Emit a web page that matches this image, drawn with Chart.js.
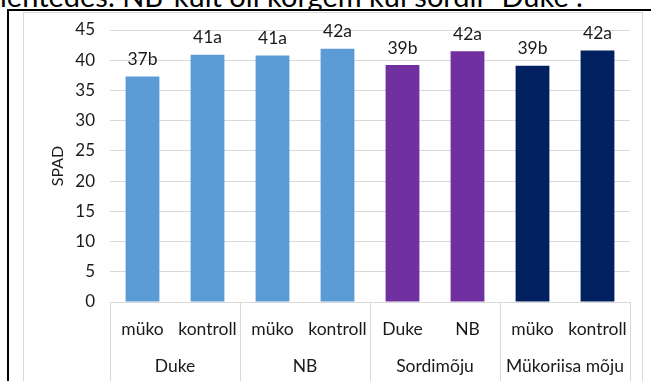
<!DOCTYPE html>
<html>
<head>
<meta charset="utf-8">
<script src="https://cdn.jsdelivr.net/npm/chart.js@4.4.0/dist/chart.umd.min.js"></script>
<style>
  body { margin: 0; background: #fff; width: 651px; height: 381px; overflow: hidden; position: relative; font-family: Lato, sans-serif; }
  .lead { position: absolute; left: 0; top: -19px; font-size: 29px; line-height: 29px; color: #000; white-space: nowrap; }
  .frame { position: absolute; left: 7px; top: 9px; width: 660px; height: 400px; border-top: 2px solid #000; border-left: 2px solid #000; background: #fff; }
  .box { position: absolute; left: 23px; top: 12px; width: 618px; height: 400px; border: 1px solid #d9d9d9; }
  canvas { position: absolute; left: 0; top: 0; }
</style>
</head>
<body>
<div class="lead">lehtedes. NB-kült oli kõrgem kui sordil "Duke".</div>
<div class="frame"></div>
<div class="box"><canvas id="chart" width="618" height="368"></canvas></div>
<script>
// SPAD väärtused sordi ja mükoriisa järgi
const subLabels = ['müko', 'kontroll', 'müko', 'kontroll', 'Duke', 'NB', 'müko', 'kontroll'];
const groupLabels = ['Duke', 'NB', 'Sordimõju', 'Mükoriisa mõju'];
const spad = [37.3, 40.9, 40.8, 41.9, 39.2, 41.5, 39.1, 41.6];
const letters = ['b', 'a', 'a', 'a', 'b', 'a', 'b', 'a'];
const barColors = ['#5b9bd5', '#5b9bd5', '#5b9bd5', '#5b9bd5', '#7030a0', '#7030a0', '#002060', '#002060'];
const yTicks = [0, 5, 10, 15, 20, 25, 30, 35, 40, 45];

const gridColor = '#d9d9d9';
const textColor = '#1a1a1a';

// kaks taset kategooriaid + väärtused tulpade kohal
const labelsPlugin = {
  id: 'labelsPlugin',
  afterDraw(chart) {
    const ctx = chart.ctx;
    const area = chart.chartArea;
    const x = chart.scales.x;
    const step = (area.right - area.left) / subLabels.length;

    ctx.save();
    ctx.strokeStyle = gridColor;
    ctx.lineWidth = 1;
    ctx.beginPath();
    ctx.moveTo(area.left, Math.round(area.bottom) + 0.5);
    ctx.lineTo(area.right, Math.round(area.bottom) + 0.5);
    for (let i = 0; i <= groupLabels.length; i++) {
      const gx = Math.round(area.left + i * 2 * step) + 0.5;
      ctx.moveTo(gx, area.bottom);
      ctx.lineTo(gx, chart.height);
    }
    ctx.stroke();

    ctx.fillStyle = textColor;
    ctx.textAlign = 'center';
    ctx.textBaseline = 'middle';
    ctx.font = '17.5px Lato';
    subLabels.forEach((lab, i) => {
      ctx.fillText(lab, x.getPixelForValue(i), area.bottom + 27);
    });
    groupLabels.forEach((lab, i) => {
      ctx.fillText(lab, area.left + (2 * i + 1) * step, area.bottom + 64);
    });

    const meta = chart.getDatasetMeta(0);
    meta.data.forEach((bar, i) => {
      ctx.fillText(Math.round(spad[i]) + letters[i], bar.x, bar.y - 17);
    });
    ctx.restore();
  }
};

new Chart(document.getElementById('chart'), {
  type: 'bar',
  data: {
    labels: subLabels,
    datasets: [{
      data: spad,
      backgroundColor: barColors,
      borderWidth: 0,
      categoryPercentage: 1,
      barPercentage: 0.52
    }]
  },
  options: {
    responsive: false,
    animation: false,
    layout: { padding: { top: 17, right: 12, bottom: 79, left: 0 } },
    plugins: { legend: { display: false }, tooltip: { enabled: false } },
    scales: {
      x: { display: false },
      y: {
        min: 0,
        max: 45,
        afterBuildTicks: (scale) => { scale.ticks = yTicks.map(v => ({ value: v })); },
        afterFit: (scale) => {
          scale.width = 86;
          scale.paddingTop = 0;
          scale.paddingBottom = 0;
        },
        border: { display: false },
        grid: { color: gridColor, drawTicks: false },
        ticks: { padding: 15, color: textColor, font: { family: 'Lato', size: 17 } },
        title: {
          display: true,
          text: 'SPAD',
          color: textColor,
          font: { family: 'Lato', size: 16 },
          padding: { top: 24, bottom: 0 }
        }
      }
    }
  },
  plugins: [labelsPlugin]
});
</script>
</body>
</html>
